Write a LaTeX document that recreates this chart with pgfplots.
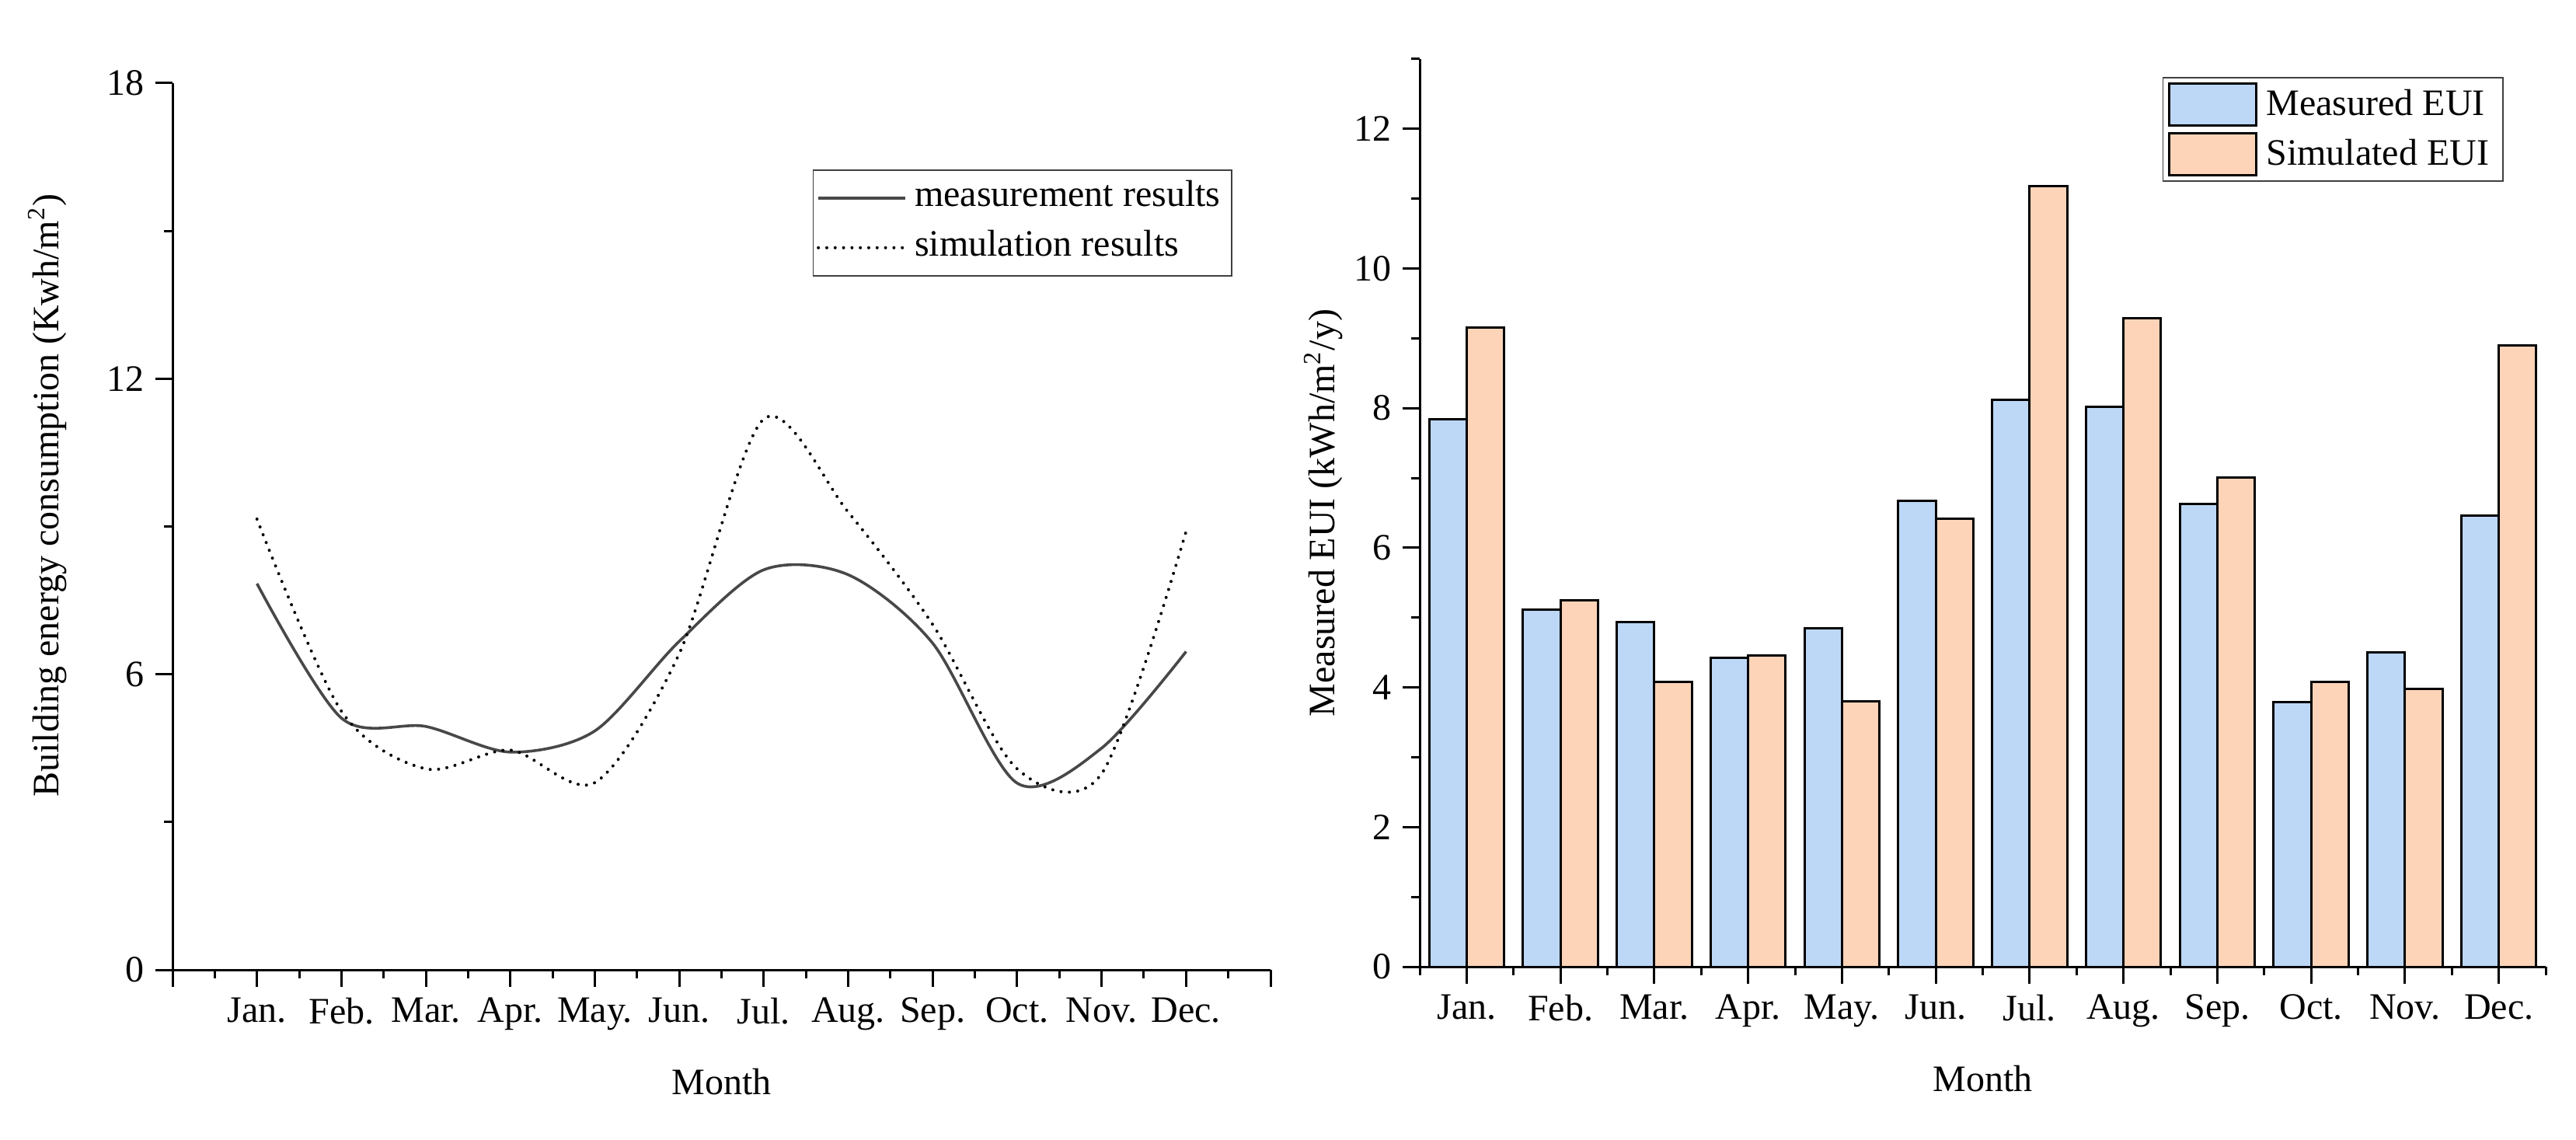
\documentclass[border=0pt]{standalone}
\usepackage{fontspec}
\setmainfont{Liberation Serif}
\usepackage{pgfplots}
\pgfplotsset{compat=1.18}
\usepackage{pgfplotstable}

\definecolor{measblue}{RGB}{189,215,247}
\definecolor{simorange}{RGB}{254,212,184}
\definecolor{linegray}{RGB}{72,72,72}

% monthly EUI, measured vs simulated
\pgfplotstableread{
month meas sim
1  7.84 9.15
2  5.11 5.25
3  4.94 4.08
4  4.42 4.46
5  4.85 3.80
6  6.67 6.42
7  8.12 11.18
8  8.02 9.29
9  6.63 7.01
10 3.79 4.08
11 4.50 3.98
12 6.46 8.90
}\euidata

\pgfplotsset{
  common/.style={
    scale only axis,
    axis x line*=bottom, axis y line*=left,
    axis line style={line width=0.75pt},
    tick align=outside,
    major tick length=5.5pt, minor tick length=2.75pt,
    every tick/.style={line width=0.75pt, black},
    /pgf/number format/assume math mode=true,
    tick label style={font=\fontsize{12}{14}\selectfont},
    label style={font=\fontsize{12}{14}\selectfont},
    xlabel={Month},
    xlabel style={at={(axis description cs:0.5,0)}, anchor=center, yshift=-36pt},
    legend cell align=left,
  }
}

\begin{document}
\begin{tikzpicture}
\useasboundingbox (0,0) rectangle (828.75pt,366.5pt);

% left: smoothed curves
\begin{axis}[
  common,
  at={(55.5pt,54.5pt)}, anchor=south west,
  width=353.25pt, height=285.25pt,
  xmin=0, xmax=13, ymin=0, ymax=18,
  xtick={0,...,13},
  xticklabels={,Jan.,Feb.,Mar.,Apr.,May.,Jun.,Jul.,Aug.,Sep.,Oct.,Nov.,Dec.,},
  minor xtick={0.5,1.5,...,12.5},
  ytick={0,6,12,18}, minor ytick={3,9,15},
  ylabel={Building energy consumption (Kwh/m\textsuperscript{2})},
  ylabel style={at={(axis description cs:-0.114,0.535)}, anchor=center},
  legend image code/.code={\draw[#1] (0pt,0pt) -- (28pt,0pt);},
  legend style={at={(rel axis cs:0.9653,0.9027)}, anchor=north east,
    draw=black!75, line width=0.4pt, inner xsep=1.2pt, inner ysep=1pt,
    font=\fontsize{12}{14}\selectfont, row sep=0pt,
    nodes={inner xsep=2.5pt, inner ysep=2.25pt, text height=8.5pt, text depth=3pt}},
]
\addplot[smooth, linegray, line width=0.9pt] table[x=month, y=meas]{\euidata};
\addlegendentry{measurement results}
\addplot[smooth, black, line width=1pt, line cap=round, dash pattern=on 0pt off 2.7pt] table[x=month, y=sim]{\euidata};
\addlegendentry{simulation results}
\end{axis}

% right: grouped bars
\begin{axis}[
  common,
  at={(456.75pt,55.5pt)}, anchor=south west,
  width=362.25pt, height=292pt,
  xmin=0.5, xmax=12.5, ymin=0, ymax=13,
  xtick={1,...,12},
  xticklabels={Jan.,Feb.,Mar.,Apr.,May.,Jun.,Jul.,Aug.,Sep.,Oct.,Nov.,Dec.},
  minor xtick={0.5,1.5,...,12.5},
  ytick={0,2,...,12}, minor ytick={1,3,...,13},
  ylabel={Measured EUI (kWh/m\textsuperscript{2}/y)},
  ylabel style={at={(axis description cs:-0.0856,0.5)}, anchor=center},
  legend image code/.code={\draw[#1] (0pt,-6.75pt) rectangle (28pt,6.75pt);},
  legend style={at={(rel axis cs:0.9627,0.98)}, anchor=north east,
    draw=black!75, line width=0.4pt, inner xsep=1.5pt, inner ysep=1.5pt,
    font=\fontsize{12}{14}\selectfont, row sep=1.75pt,
    nodes={inner xsep=3pt, inner ysep=0pt}},
]
\addplot[ybar, bar width=0.4, bar shift=-0.2, fill=measblue, draw=black, line width=0.75pt] table[x=month, y=meas]{\euidata};
\addlegendentry{Measured EUI}
\addplot[ybar, bar width=0.4, bar shift=0.2, fill=simorange, draw=black, line width=0.75pt] table[x=month, y=sim]{\euidata};
\addlegendentry{Simulated EUI}
\end{axis}
\end{tikzpicture}
\end{document}
